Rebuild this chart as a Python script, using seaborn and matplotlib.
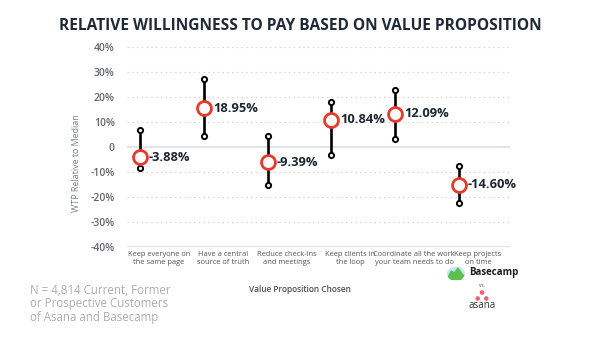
import matplotlib
matplotlib.use("Agg")
import matplotlib.pyplot as plt
import seaborn as sns
import pandas as pd
import numpy as np
from matplotlib.patches import Ellipse, Polygon

categories = ["Keep everyone on\nthe same page", "Have a central\nsource of truth",
              "Reduce check-ins\nand meetings", "Keep clients in\nthe loop",
              "Coordinate all the work\nyour team needs to do", "Keep projects\non time"]
center = [-4.1, 15.4, -6.2, 10.9, 13.3, -15.2]
upper = [6.6, 27.3, 4.4, 18.0, 22.6, -7.8]
lower = [-8.6, 4.5, -15.2, -3.2, 3.2, -22.7]
labels = ["-3.88%", "18.95%", "-9.39%", "10.84%", "12.09%", "-14.60%"]
yticks = [-40, -30, -20, -10, 0, 10, 20, 30, 40]
ytick_labels = ["-40%", "-30%", "-20%", "-10%", "0", "10%", "20%", "30%", "40%"]

sns.set_theme(style="white")
plt.rcParams["font.family"] = ["Open Sans", "DejaVu Sans"]

idx = np.arange(len(categories))
df = pd.DataFrame({"cat": categories, "band": idx, "x": idx - 0.3,
                   "center": center, "upper": upper, "lower": lower, "label": labels})
ends = pd.concat([df[["x", "upper"]].rename(columns={"upper": "y"}),
                  df[["x", "lower"]].rename(columns={"lower": "y"})])

fig = plt.figure(figsize=(6, 3.37), dpi=100)
ax = fig.add_axes([0.212, 0.268, 0.638, 0.593])

grid_c = "#d3d6da"
for t in yticks:
    if t in (0, -40):
        ax.axhline(t, color="#e1e4e8", lw=1.5, zorder=0)
    else:
        ax.axhline(t, color=grid_c, lw=0.9, ls=(0, (1.2, 2.6)), zorder=0)

ax.vlines(df["x"], df["lower"], df["upper"], color="black", lw=1.9, zorder=2)
sns.scatterplot(data=ends, x="x", y="y", ax=ax, s=14, marker="o",
                facecolor="white", edgecolor="black", linewidth=1.4, zorder=3, legend=False)
sns.scatterplot(data=df, x="x", y="center", ax=ax, s=100, marker="o",
                facecolor="white", edgecolor="#e8392a", linewidth=2.0, zorder=4, legend=False)
for _, r in df.iterrows():
    ax.annotate(r["label"], (r["x"], r["center"]), xytext=(6.5, 0), textcoords="offset points",
                ha="left", va="center", fontsize=9.3, fontweight="bold", color="#1c2630", zorder=5)

ax.set_xlim(-0.5, 5.5)
ax.set_ylim(-40, 40)
ax.set_yticks(yticks)
ax.set_yticklabels(ytick_labels, fontsize=7.5, color="#62666c", fontweight="semibold")
ax.set_xticks(df["band"])
ax.set_xticklabels(categories, fontsize=5.4, color="#50555b", linespacing=1.15)
ax.tick_params(axis="both", length=0, pad=3)
ax.tick_params(axis="y", pad=9)
for s in ax.spines.values():
    s.set_visible(False)
ax.set_xlabel("")
ax.set_ylabel("WTP Relative to Median", fontsize=6.4, color="#7a7f86")
ax.yaxis.set_label_coords(-0.12, 0.42)

fig.text(0.5, 0.922, "RELATIVE WILLINGNESS TO PAY BASED ON VALUE PROPOSITION",
         ha="center", va="center", fontsize=11.2, fontweight="bold", color="#1f2a36")
fig.text(300 / 600, 1 - 290 / 337, "Value Proposition Chosen", ha="center", va="center",
         fontsize=6, color="#4a4f55", fontweight="semibold")
fig.text(30 / 600, 1 - 304 / 337, "N = 4,814 Current, Former\nor Prospective Customers\nof Asana and Basecamp",
         ha="left", va="center", fontsize=8.3, color="#adadad", linespacing=1.05,
         fontweight="medium")

# logos (decorative)
def fx(px):
    return px / 600

def fy(py):
    return 1 - py / 337

fig.patches.append(Ellipse((fx(456), fy(273.5)), 18 / 600, 14 / 337, transform=fig.transFigure,
                           facecolor="#c4e6f7", edgecolor="none"))
fig.patches.append(Polygon([(fx(447.5), fy(277)), (fx(451), fy(270)), (fx(454), fy(272)),
                            (fx(458), fy(267)), (fx(464.5), fy(276)), (fx(461), fy(280)),
                            (fx(451), fy(280))], closed=True, transform=fig.transFigure,
                           facecolor="#5cbf4e", edgecolor="none"))
fig.text(469 / 600, 1 - 273 / 337, "Basecamp", ha="left", va="center", fontsize=7,
         fontweight="bold", color="#1d1d1d")
fig.text(482 / 600, 1 - 285.5 / 337, "vs.", ha="center", va="center", fontsize=3.5, color="#555")
for dx, dy in [(0, -3.5), (-4.3, 2.5), (4.3, 2.5)]:
    fig.patches.append(Ellipse((fx(482 + dx), fy(296 + dy)), 4.6 / 600, 4.6 / 337,
                               transform=fig.transFigure, facecolor="#f0616a", edgecolor="none"))
fig.text(482 / 600, 1 - 306 / 337, "asana", ha="center", va="center", fontsize=7, color="#333")

fig.savefig("out.png", dpi=100)
